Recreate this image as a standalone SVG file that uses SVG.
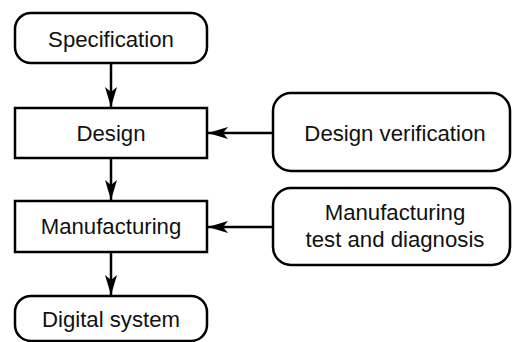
<svg xmlns="http://www.w3.org/2000/svg" width="512" height="342" viewBox="0 0 512 342">
  <style>
    .box { fill: #fff; stroke: #000; stroke-width: 2.5; }
    .lbl { font-family: "Liberation Sans", Arial, Helvetica, sans-serif; font-size: 22.2px; fill: #111; text-anchor: middle; }
    .edge { stroke: #000; stroke-width: 2.5; fill: none; marker-end: url(#arrow); }
  </style>
  <defs>
    <marker id="arrow" markerUnits="userSpaceOnUse" markerWidth="20" markerHeight="12" viewBox="0 0 20 12" refX="20" refY="6" orient="auto">
      <path d="M0,0 L20,6 L0,12 L5,6 Z" fill="#000"/>
    </marker>
  </defs>
  <rect width="512" height="342" fill="#fff"/>

  <g id="connectors">
    <line class="edge" x1="111" y1="64" x2="111" y2="107"/>
    <line class="edge" x1="111" y1="159" x2="111" y2="200"/>
    <line class="edge" x1="111" y1="253" x2="111" y2="295"/>
    <line class="edge" x1="273" y1="133" x2="208" y2="133"/>
    <line class="edge" x1="273" y1="227" x2="208" y2="227"/>
  </g>

  <g id="specification">
    <rect class="box" x="15" y="13" width="192" height="50" rx="16"/>
    <text class="lbl" x="111" y="46.5">Specification</text>
  </g>
  <g id="design">
    <rect class="box" x="15" y="108" width="192" height="50"/>
    <text class="lbl" x="111" y="140.5">Design</text>
  </g>
  <g id="manufacturing">
    <rect class="box" x="15" y="201" width="192" height="51"/>
    <text class="lbl" x="111" y="233.5">Manufacturing</text>
  </g>
  <g id="digital-system">
    <rect class="box" x="15" y="296" width="192" height="45" rx="16"/>
    <text class="lbl" x="111" y="326.5">Digital system</text>
  </g>
  <g id="design-verification">
    <rect class="box" x="273" y="93" width="237" height="78" rx="18"/>
    <text class="lbl" x="395" y="140.5">Design verification</text>
  </g>
  <g id="manufacturing-test">
    <rect class="box" x="273" y="188" width="237" height="77" rx="18"/>
    <text class="lbl" x="395" y="220">Manufacturing</text>
    <text class="lbl" x="395" y="246.5">test and diagnosis</text>
  </g>
</svg>
